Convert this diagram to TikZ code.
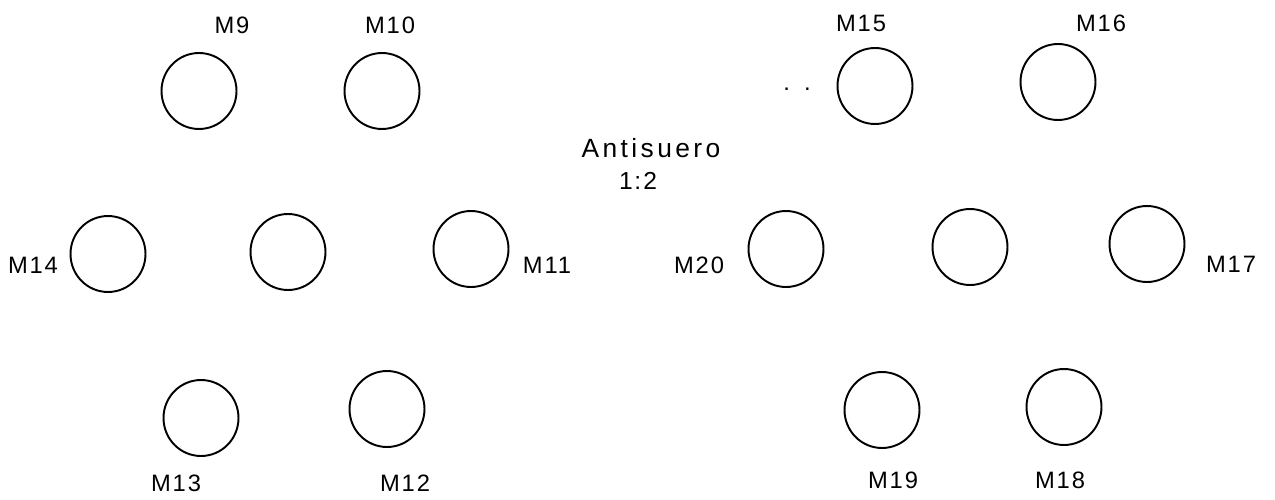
\documentclass[tikz,border=0pt]{standalone}
\usepackage{fontspec}
\usetikzlibrary{shapes.geometric}
\newfontfamily\labfont[LetterSpace=8]{Liberation Sans}
\newfontfamily\antifont[LetterSpace=13]{Liberation Sans}
\begin{document}
\begin{tikzpicture}[x=0.02cm,y=-0.02cm,
  well/.style={draw,line width=1.1pt,ellipse,minimum width=1.5cm,minimum height=1.52cm,inner sep=0pt},
  lab/.style={font=\labfont\fontsize{13.5}{15}\selectfont,inner sep=0pt},
  big/.style={font=\antifont\fontsize{15}{17}\selectfont,inner sep=0pt}]
\useasboundingbox (0,0) rectangle (1275,500);
% left group
\node[well] (w9)  at (199,91) {};
\node[well] (w10) at (382,91) {};
\node[well] (w14) at (108,254) {};
\node[well] (wl)  at (288,252) {};
\node[well] (w11) at (471,249) {};
\node[well] (w13) at (201,418) {};
\node[well] (w12) at (387,409) {};
% right group
\node[well] (w15) at (875,86) {};
\node[well] (w16) at (1058,82) {};
\node[well] (w20) at (786,249) {};
\node[well] (wr)  at (970,247) {};
\node[well] (w17) at (1147,244) {};
\node[well] (w19) at (882,410) {};
\node[well] (w18) at (1064,407) {};
% labels
\node[lab] (l9)  at (232,25) {M9};
\node[lab] (l10) at (390,25) {M10};
\node[lab] (l14) at (33,265) {M14};
\node[lab] (l11) at (547,265) {M11};
\node[lab] (l13) at (176,483) {M13};
\node[lab] (l12) at (405,483) {M12};
\node[lab] (l15) at (861,23) {M15};
\node[lab] (l16) at (1101,23) {M16};
\node[lab] (l20) at (699,265) {M20};
\node[lab] (l17) at (1231,264) {M17};
\node[lab] (l19) at (893,480) {M19};
\node[lab] (l18) at (1060,480) {M18};
\node[big] (anti) at (651,148) {Antisuero};
\node[lab,font=\labfont\fontsize{14}{16}\selectfont] (ratio) at (638,181) {1\kern1pt:2};
\node[lab] (dots) at (797,89) {.\hspace{8pt}.};
\end{tikzpicture}
\end{document}
